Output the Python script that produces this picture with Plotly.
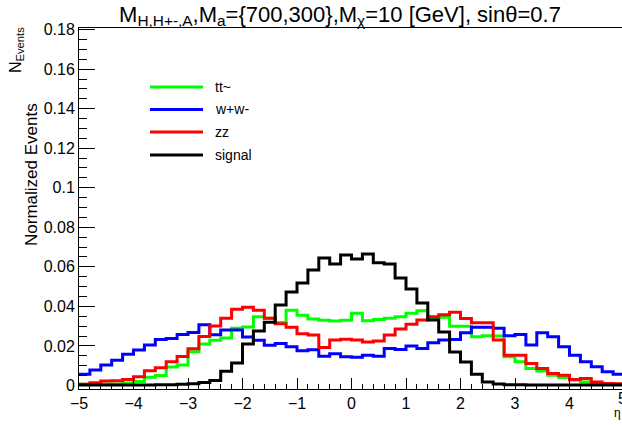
import plotly.graph_objects as go

# 50 bins of width 0.2 between -5 and 5
bin_edges = [round(-5 + 0.2 * i, 2) for i in range(51)]

tt = [0.0006, 0.0006, 0.0007, 0.0007, 0.0012, 0.0020, 0.0042, 0.0050, 0.0093, 0.0103,
      0.0170, 0.0210, 0.0228, 0.0240, 0.0289, 0.0296, 0.0348, 0.0340, 0.0318, 0.0380,
      0.0355, 0.0336, 0.0330, 0.0326, 0.0330, 0.0365, 0.0327, 0.0334, 0.0340, 0.0347,
      0.0365, 0.0378, 0.0344, 0.0345, 0.0300, 0.0300, 0.0246, 0.0251, 0.0250, 0.0145,
      0.0120, 0.0086, 0.0073, 0.0052, 0.0040, 0.0027, 0.0018, 0.0010, 0.0007, 0.0006]

ww = [0.0056, 0.0078, 0.0103, 0.0128, 0.0158, 0.0179, 0.0204, 0.0233, 0.0238, 0.0258,
      0.0268, 0.0307, 0.0257, 0.0280, 0.0280, 0.0245, 0.0228, 0.0203, 0.0212, 0.0196,
      0.0175, 0.0181, 0.0148, 0.0160, 0.0145, 0.0142, 0.0153, 0.0148, 0.0187, 0.0182,
      0.0199, 0.0187, 0.0216, 0.0230, 0.0233, 0.0266, 0.0294, 0.0294, 0.0289, 0.0251,
      0.0258, 0.0204, 0.0266, 0.0246, 0.0196, 0.0153, 0.0120, 0.0094, 0.0069, 0.0057]

zz = [0.0006, 0.0013, 0.0022, 0.0024, 0.0030, 0.0044, 0.0074, 0.0090, 0.0120, 0.0147,
      0.0185, 0.0248, 0.0301, 0.0340, 0.0385, 0.0395, 0.0380, 0.0340, 0.0312, 0.0294,
      0.0261, 0.0255, 0.0192, 0.0230, 0.0234, 0.0230, 0.0220, 0.0225, 0.0255, 0.0285,
      0.0310, 0.0331, 0.0347, 0.0358, 0.0370, 0.0338, 0.0317, 0.0317, 0.0230, 0.0153,
      0.0153, 0.0111, 0.0086, 0.0060, 0.0052, 0.0030, 0.0035, 0.0018, 0.0010, 0.0008]

signal = [0.0002, 0.0002, 0.0002, 0.0002, 0.0002, 0.0002, 0.0002, 0.0003, 0.0003, 0.0006,
          0.0008, 0.0015, 0.0025, 0.0072, 0.0113, 0.0210, 0.0275, 0.0320, 0.0407, 0.0473,
          0.0518, 0.0584, 0.0645, 0.0614, 0.0660, 0.0640, 0.0665, 0.0620, 0.0614, 0.0543,
          0.0488, 0.0417, 0.0331, 0.0270, 0.0169, 0.0118, 0.0057, 0.0018, 0.0007, 0.0004,
          0.0003, 0.0002, 0.0002, 0.0002, 0.0002, 0.0002, 0.0002, 0.0002, 0.0002, 0.0002]

series_names = ["tt~", "w+w-", "zz", "signal"]
series_values = [tt, ww, zz, signal]
series_colors = ["#00ff00", "#0000ff", "#ff0000", "#000000"]

FONT = "Liberation Sans, Arial, Helvetica, sans-serif"
L, T, B = 79, 28, 36
PW, PH = 622 - L, 425 - T - B
PX_PER_UNIT = 54.5


def px(xp):
    return (xp - L) / PW


def py(yp):
    return 1 - (yp - T) / PH


fig = go.Figure()
for name, vals, col in zip(series_names, series_values, series_colors):
    fig.add_trace(go.Scatter(
        x=bin_edges, y=list(vals) + [vals[-1]],
        mode="lines", line=dict(color=col, width=3, shape="hv"),
        name=name, showlegend=False,
    ))

# legend drawn by hand (ROOT TLegend look: long line samples, no frame)
legend_rows = [87, 109.5, 132, 155]
for name, col, yr in zip(series_names, series_colors, legend_rows):
    fig.add_shape(type="line", xref="paper", yref="paper",
                  x0=px(150), x1=px(203), y0=py(yr), y1=py(yr),
                  line=dict(color=col, width=3))
    fig.add_annotation(text=name, xref="paper", yref="paper",
                       x=px(213), y=py(yr), xanchor="left", yanchor="middle",
                       showarrow=False, font=dict(family=FONT, size=14))

fig.update_layout(
    width=622, height=425,
    margin=dict(l=L, r=0, t=T, b=B),
    paper_bgcolor="white", plot_bgcolor="white",
    font=dict(family=FONT, color="black", size=16),
    showlegend=False,
    title=dict(
        text="M<sub>H,H+-,A</sub>,M<sub>a</sub>={700,300},M<sub>χ</sub>=10 [GeV], sinθ=0.7",
        x=px(340), xref="paper", xanchor="center",
        y=0.985, yanchor="top",
        font=dict(family=FONT, size=22),
    ),
)

fig.update_xaxes(
    range=[-5, -5 + PW / PX_PER_UNIT], showgrid=False, zeroline=False,
    showline=True, linecolor="black", linewidth=1, mirror=True,
    ticks="inside", ticklen=11, tickcolor="black", tickwidth=1,
    tick0=-5, dtick=1,
    minor=dict(ticks="inside", ticklen=5, dtick=0.2, tick0=-5, tickcolor="black", showgrid=False),
    tickfont=dict(family=FONT, size=16),
)
fig.update_yaxes(
    range=[-0.0018, 0.1808], showgrid=False, zeroline=False,
    showline=True, linecolor="black", linewidth=1,
    ticks="inside", ticklen=16, tickcolor="black", tickwidth=1,
    tick0=0, dtick=0.02,
    minor=dict(ticks="inside", ticklen=8, dtick=0.005, tick0=0, tickcolor="black", showgrid=False),
    tickfont=dict(family=FONT, size=16),
)

fig.add_annotation(
    text="Normalized Events", textangle=-90,
    xref="paper", yref="paper", x=px(31), y=py(175),
    xanchor="center", yanchor="middle", showarrow=False,
    font=dict(family=FONT, size=17),
)
fig.add_annotation(
    text="N<sub>Events</sub>", textangle=-90,
    xref="paper", yref="paper", x=px(17), y=py(50),
    xanchor="center", yanchor="middle", showarrow=False,
    font=dict(family=FONT, size=16),
)
fig.add_annotation(
    text="η",
    xref="paper", yref="paper", x=px(617), y=py(413),
    xanchor="center", yanchor="middle", showarrow=False,
    font=dict(family=FONT, size=12),
)
fig.add_annotation(
    text="5",
    xref="paper", yref="paper", x=px(622), y=py(398),
    xanchor="center", yanchor="middle", showarrow=False,
    font=dict(family=FONT, size=16),
)

fig.write_html("out.html")
